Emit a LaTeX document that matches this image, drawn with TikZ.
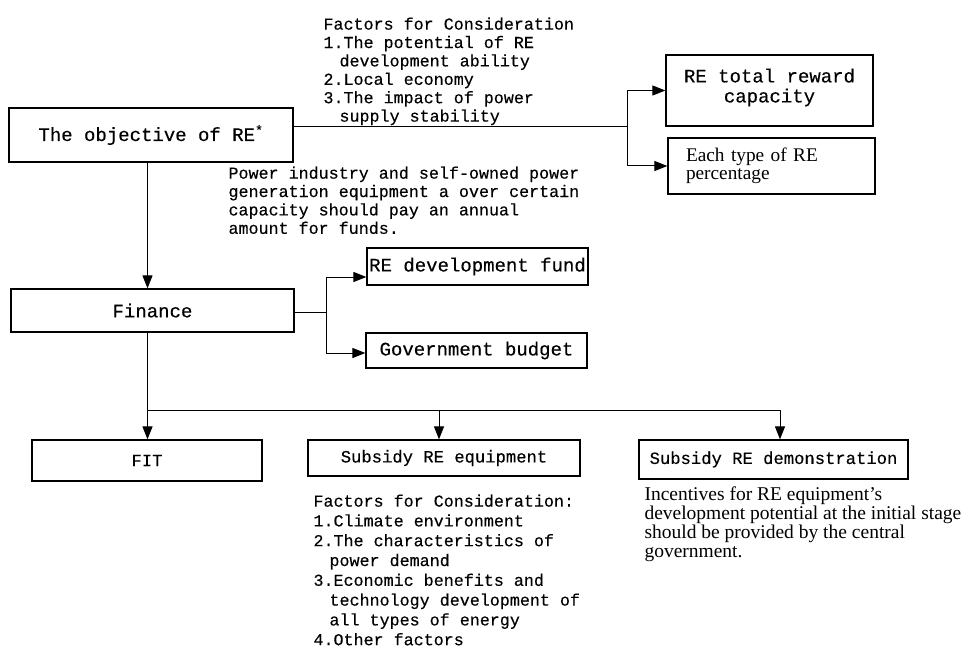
\documentclass[tikz,border=0pt]{standalone}
\usepackage{fontspec}
\setmainfont{Liberation Serif}
\newfontfamily\cnmono[FakeBold=0.3]{Liberation Mono}
\usetikzlibrary{arrows.meta,positioning}
\newcommand\boxfont{\cnmono\fontsize{19}{21}\selectfont}
\newcommand\smallboxfont{\cnmono\fontsize{17.2}{20}\selectfont}
\newcommand\notefont{\cnmono\fontsize{16.7}{18.4}\selectfont}
\newcommand\serifnote{\fontsize{19.5}{19}\selectfont}

\begin{document}
\begin{tikzpicture}[x=1pt, y=-1pt, line width=1pt, >={Triangle[length=13pt,width=10pt]}]
   \useasboundingbox (0,0) rectangle (972,650);
   \begin{scope}[every node/.style={draw, line width=1.2pt, inner sep=0pt, font=\boxfont}]
    \node (obj) [minimum width=284pt, minimum height=54pt] at (151,135) {The objective of RE\textsuperscript{*}};
    \node (total) [minimum width=207pt, minimum height=71pt, align=center, font=\cnmono\fontsize{19}{20}\selectfont] at (769.5,90.5) {RE total reward\\capacity\rule[-10pt]{0pt}{0pt}};
    \node (each) [text width=171pt, inner xsep=18pt, minimum height=56pt, align=left, font=\fontsize{19.3}{18}\selectfont] at (771.5,166) {Each type of RE\\percentage};
    \node (fin) [minimum width=283pt, minimum height=43pt] at (152.5,310.5) {Finance};
    \node (fund) [minimum width=221pt, minimum height=37pt] at (477.5,266.5) {RE development fund};
    \node (budget) [minimum width=221pt, minimum height=35pt] at (476.5,350.5) {Government budget};
    \node (fit) [minimum width=230pt, minimum height=41pt, font=\smallboxfont] at (147,460.5) {FIT};
    \node (subeq) [minimum width=272pt, minimum height=36pt, font=\smallboxfont] at (444,458) {Subsidy RE equipment};
    \node (subdemo) [minimum width=269pt, minimum height=39pt, font=\smallboxfont] at (773.5,459.5) {Subsidy RE demonstration};
   \end{scope}
   \begin{scope}[every node/.style={anchor=north west, inner sep=0pt, align=left, font=\notefont}]
    \node (factA) at (323,17) {Factors for Consideration\\1.The potential of RE\\\hspace*{16pt}development ability\\2.Local economy\\3.The impact of power\\\hspace*{16pt}supply stability};
    \node (pay) at (228,166) {Power industry and self-owned power\\generation equipment a over certain\\capacity should pay an annual\\amount for funds.};
    \node (factB) [font=\cnmono\fontsize{16.7}{19.8}\selectfont] at (313,494) {Factors for Consideration:\\1.Climate environment\\2.The characteristics of\\\hspace*{16pt}power demand\\3.Economic benefits and\\\hspace*{16pt}technology development of\\\hspace*{16pt}all types of energy\\4.Other factors};
    \node (incent) [font=\serifnote] at (644,486.5) {Incentives for RE equipment’s\\development potential at the initial stage\\should be provided by the central\\government.};
   \end{scope}
   \coordinate (jA) at (627,127);
   \coordinate (jB) at (326,312);
   \coordinate (jC) at (147.5,410);
   \coordinate (jD) at (439,410);
   \coordinate (jE) at (780,410);
   \draw (obj.east |- jA) -- (jA);
   \draw (fin.east |- jB) -- (jB);
   \draw (fin.south -| jC) -- (jC) -- (jE);
   \begin{scope}[->]
    \draw (jA) |- (total);
    \draw (jA) |- (each);
    \draw (jB) |- ([yshift=-10.5pt]fund.west);
    \draw (jB) |- ([yshift=-2.5pt]budget.west);
    \draw (obj.south -| jC) -- (jC |- fin.north);
    \draw (jC) -- (jC |- fit.north);
    \draw (jD) -- (jD |- subeq.north);
    \draw (jE) -- (jE |- subdemo.north);
   \end{scope}
\end{tikzpicture}
\end{document}
